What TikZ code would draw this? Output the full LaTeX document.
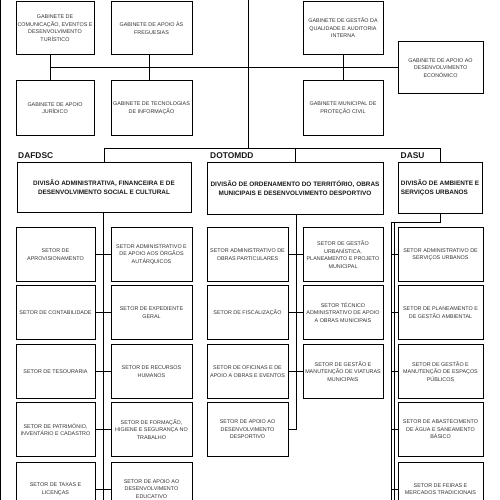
\documentclass[tikz,border=0pt]{standalone}
\usepackage{fontspec}
\setmainfont{Liberation Sans}
\begin{document}
\begin{tikzpicture}[x=1pt,y=-1pt,
  box/.style={draw=black, line width=1pt, inner sep=0pt, align=center,
    font=\fontsize{5.4}{7.6}\selectfont, text=black!80},
  gab/.style={box, minimum height=53pt},
  divbox/.style={draw=black, line width=1pt, inner sep=0pt, align=center,
    font=\fontsize{6.4}{9}\selectfont\bfseries, text=black!90},
  divlabel/.style={anchor=base west, inner sep=0pt, font=\fontsize{8.4}{10}\selectfont\bfseries, text=black!90},
  colA/.style={box, minimum width=79pt, minimum height=54pt},
  colB/.style={box, minimum width=81pt, minimum height=54pt},
  colC/.style={box, minimum width=81pt, minimum height=54pt},
  colD/.style={box, minimum width=80pt, minimum height=54pt},
  colE/.style={box, minimum width=85pt, minimum height=54pt},
  conn/.style={draw=black, line width=0.8pt}]
\useasboundingbox (0,0) rectangle (500,500);
\fill[white] (0,0) rectangle (500,500);
\begin{scope}
\clip (0,0) rectangle (500,500);
% left edge line
\coordinate (edgeT) at (0.6,0);
\coordinate (edgeB) at (0.6,500);
\draw[conn] (edgeT) -- (edgeB);

% ---------- gabinetes ----------
\node[gab, minimum width=78pt] (g1) at (55,28) {GABINETE DE\\COMUNICAÇÃO, EVENTOS E\\DESENVOLVIMENTO\\TURÍSTICO};
\node[gab, minimum width=81pt] (g2) at (151.5,28) {GABINETE DE APOIO ÀS\\FREGUESIAS};
\node[gab, minimum width=78pt, minimum height=54pt] (g3) at (55,108) {GABINETE DE APOIO\\JURÍDICO};
\node[gab, minimum width=81pt, minimum height=54pt] (g4) at (151.5,108) {GABINETE DE TECNOLOGIAS\\DE INFORMAÇÃO};
\node[gab, minimum width=80pt] (g5) at (343,28) {GABINETE DE GESTÃO DA\\QUALIDADE E AUDITORIA\\INTERNA};
\node[gab, minimum width=80pt, minimum height=54pt] (g6) at (343,108) {GABINETE MUNICIPAL DE\\PROTEÇÃO CIVIL};
\node[gab, minimum width=85pt, minimum height=52pt] (g7) at (440.5,68) {GABINETE DE APOIO AO\\DESENVOLVIMENTO\\ECONÓMICO};

\coordinate (top) at (248,0);
\coordinate (hub) at (248,148);
\coordinate (tl) at (50,67);
\draw[conn] (top) -- (hub);
\draw[conn] (tl) -- (tl -| g7.west);
\draw[conn] ([xshift=-5pt]g1.south) -- ([xshift=-5pt]g3.north);
\draw[conn] ([xshift=-2.5pt]g2.south) -- ([xshift=-2.5pt]g4.north);
\draw[conn] (g5.south) -- (g6.north);

% ---------- divisions ----------
\node[divbox, minimum width=174pt, minimum height=50pt] (d1) at (104,187) {DIVISÃO ADMINISTRATIVA, FINANCEIRA E DE\\DESENVOLVIMENTO SOCIAL E CULTURAL};
\node[divbox, minimum width=176pt, minimum height=52pt] (d2) at (295,188) {DIVISÃO DE ORDENAMENTO DO TERRITÓRIO, OBRAS\\MUNICIPAIS E DESENVOLVIMENTO DESPORTIVO};
\node[divbox, minimum width=84pt, minimum height=51pt, align=left] (d3) at (440,187.5) {DIVISÃO DE AMBIENTE E\\SERVIÇOS URBANOS};
\node[divlabel] (l1) at (18,158.5) {DAFDSC};
\node[divlabel] (l2) at (210,158.5) {DOTOMDD};
\node[divlabel] (l3) at (400.5,158.5) {DASU};

\coordinate (bl) at (104,148);
\coordinate (br) at (440,148);
\draw[conn] (bl) -- (br);
\draw[conn] (bl) -- (d1.north);
\draw[conn] (d2.north |- bl) -- (d2.north);
\draw[conn] (br) -- (d3.north);

% ---------- DAFDSC sectors ----------
\node[colA] (a1) at (55.5,254.5) {SETOR DE\\APROVISIONAMENTO};
\node[colA] (a2) at (55.5,312.5) {SETOR DE CONTABILIDADE};
\node[colA] (a3) at (55.5,371.5) {SETOR DE TESOURARIA};
\node[colA] (a4) at (55.5,429.5) {SETOR DE PATRIMÓNIO,\\INVENTÁRIO E CADASTRO};
\node[colA] (a5) at (55.5,489) {SETOR DE TAXAS E\\LICENÇAS};
\node[colB] (b1) at (151.5,254.5) {SETOR ADMINISTRATIVO E\\DE APOIO AOS ÓRGÃOS\\AUTÁRQUICOS};
\node[colB] (b2) at (151.5,312.5) {SETOR DE EXPEDIENTE\\GERAL};
\node[colB] (b3) at (151.5,371.5) {SETOR DE RECURSOS\\HUMANOS};
\node[colB] (b4) at (151.5,429.5) {SETOR DE FORMAÇÃO,\\HIGIENE E SEGURANÇA NO\\TRABALHO};
\node[colB] (b5) at (151.5,489) {SETOR DE APOIO AO\\DESENVOLVIMENTO\\EDUCATIVO};
\coordinate (abEnd) at (103,510);
\draw[conn] (d1.south -| abEnd) -- (abEnd);
\foreach \i in {1,...,5} {\draw[conn] (a\i.east) -- (b\i.west);}

% ---------- DOTOMDD sectors ----------
\node[colC] (c1) at (247.5,254.5) {SETOR ADMINISTRATIVO DE\\OBRAS PARTICULARES};
\node[colC] (c2) at (247.5,312.5) {SETOR DE FISCALIZAÇÃO};
\node[colC] (c3) at (247.5,371.5) {SETOR DE OFICINAS E DE\\APOIO A OBRAS E EVENTOS};
\node[colC] (c4) at (247.5,429.5) {SETOR DE APOIO AO\\DESENVOLVIMENTO\\DESPORTIVO};
\node[colD] (e1x) at (343,254.5) {SETOR DE GESTÃO\\URBANÍSTICA,\\PLANEAMENTO E PROJETO\\MUNICIPAL};
\node[colD] (e2x) at (343,312.5) {SETOR TÉCNICO\\ADMINISTRATIVO DE APOIO\\A OBRAS MUNICIPAIS};
\node[colD] (e3x) at (343,371.5) {SETOR DE GESTÃO E\\MANUTENÇÃO DE VIATURAS\\MUNICIPAIS};
\coordinate (cdx) at (296,300);
\draw[conn] (d2.south -| cdx) -- (c4.east -| cdx) -- (c4.east);
\draw[conn] (c1.east) -- (e1x.west);
\draw[conn] (c2.east) -- (e2x.west);
\draw[conn] (c3.east) -- (e3x.west);

% ---------- DASU sectors ----------
\node[colE] (s1) at (440.5,254.5) {SETOR ADMINISTRATIVO DE\\SERVIÇOS URBANOS};
\node[colE] (s2) at (440.5,312.5) {SETOR DE PLANEAMENTO E\\DE GESTÃO AMBIENTAL};
\node[colE] (s3) at (440.5,371.5) {SETOR DE GESTÃO E\\MANUTENÇÃO DE ESPAÇOS\\PÚBLICOS};
\node[colE] (s4) at (440.5,429.5) {SETOR DE ABASTECIMENTO\\DE ÁGUA E SANEAMENTO\\BÁSICO};
\node[colE] (s5) at (440.5,489) {SETOR DE FEIRAS E\\MERCADOS TRADICIONAIS};
\coordinate (ej) at (391,222);
\coordinate (ejb) at (391,510);
\coordinate (ek) at (394,222);
\coordinate (ekb) at (394,510);
\draw[conn] (d3.south) -- (d3.south |- ej) -- (ej) -- (ejb);
\draw[conn, line width=0.5pt] (ek) -- (ekb);
\foreach \i in {1,...,5} {\draw[conn] (s\i.west -| ej) -- (s\i.west);}
\end{scope}
\end{tikzpicture}
\end{document}
